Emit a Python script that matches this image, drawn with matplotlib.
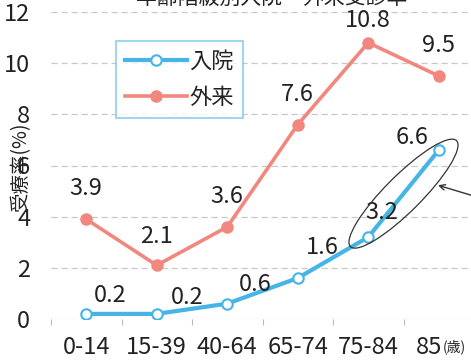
import numpy as np
import matplotlib.pyplot as plt
from matplotlib.patches import Ellipse
from matplotlib.transforms import IdentityTransform, ScaledTranslation

plt.rcParams['font.family'] = ['Noto Sans CJK JP', 'DejaVu Sans']

# data
age_groups = ['0-14', '15-39', '40-64', '65-74', '75-84', '85']
inpatient = [0.2, 0.2, 0.6, 1.6, 3.2, 6.6]
outpatient = [3.9, 2.1, 3.6, 7.6, 10.8, 9.5]
y_ticks = [0, 2, 4, 6, 8, 10, 12]

blue = '#45B4E6'
salmon = '#F2877F'
text_c = '#222222'

fig = plt.figure(figsize=(4.71, 3.61), dpi=100)
ax = fig.add_axes([51 / 471, 1 - 319 / 361, 423 / 471, 307 / 361])

x = np.arange(len(age_groups))

ax.plot(x, inpatient, color=blue, lw=3, marker='o', ms=7.5,
        mfc='white', mec=blue, mew=1.5, label='入院', zorder=3)
ax.plot(x, outpatient, color=salmon, lw=2.6, marker='o', ms=8,
        mfc=salmon, mec=salmon, label='外来', zorder=3)

# data labels (offsets in points)
in_off = [(17, 13), (22, 12), (20, 14), (18, 22), (10, 18), (-19, 9)]
out_off = [(0, 22), (0, 21), (0, 22), (0, 22), (0, 16), (0, 22)]
for i in range(len(x)):
    ax.annotate(f'{inpatient[i]:.1f}', (x[i], inpatient[i]), xytext=in_off[i],
                textcoords='offset points', ha='center', va='center',
                fontsize=17, color=text_c, zorder=4)
    ax.annotate(f'{outpatient[i]:.1f}', (x[i], outpatient[i]), xytext=out_off[i],
                textcoords='offset points', ha='center', va='center',
                fontsize=17, color=text_c, zorder=4)

ax.set_xlim(-0.5, len(x) - 0.5)
ax.set_ylim(0, 12)
ax.set_yticks(y_ticks)
ax.set_yticklabels([str(v) for v in y_ticks])
ax.set_xticks(x)
ax.set_xticklabels(age_groups)
ax.set_xticks(np.arange(-0.5, len(x), 1), minor=True)

ax.grid(True, axis='y', color='#C8C8C8', lw=0.9, ls=(0, (5, 3)))
ax.set_axisbelow(True)
for s in ax.spines.values():
    s.set_visible(False)
ax.tick_params(axis='both', which='major', length=0, labelsize=17, colors=text_c)
ax.tick_params(axis='x', which='major', pad=12)
ax.tick_params(axis='y', which='major', pad=15)
ax.tick_params(axis='x', which='minor', length=4, color='#BBBBBB', width=0.8)

# shift "85" left and put a small "(歳)" after it
last = ax.get_xticklabels()[-1]
last.set_transform(last.get_transform() + ScaledTranslation(-7 / 72, 0, fig.dpi_scale_trans))
ax.annotate('(歳)', xy=(x[-1], 0), xycoords=('data', 'axes fraction'),
            xytext=(3, -20), textcoords='offset points', ha='left', va='center',
            fontsize=10, color=text_c, annotation_clip=False)

ax.set_ylabel('受療率(%)', fontsize=14, color=text_c)
ax.yaxis.set_label_coords(-0.047, 0.495)

leg = ax.legend(loc='upper left', bbox_to_anchor=(0.154, 0.906), borderaxespad=0,
                fontsize=16, frameon=True, fancybox=False, handlelength=2.8,
                labelspacing=0.6, borderpad=0.4, handletextpad=0.1)
leg.get_frame().set_edgecolor('#8ACDEA')
leg.get_frame().set_linewidth(1.5)
for t in leg.get_texts():
    t.set_color(text_c)

fig.text(272 / 471, 1 + 2 / 361, '年齢階級別入院・外来受診率', ha='center', va='center',
         fontsize=15, color=text_c)

# ellipse around the last segment of 入院, with an arrow
p1 = ax.transData.transform((x[-2], inpatient[-2]))
p2 = ax.transData.transform((x[-1], inpatient[-1]))
c = (p1 + p2) / 2
ang = np.degrees(np.arctan2(p2[1] - p1[1], p2[0] - p1[0])) - 6
ell = Ellipse(c, width=np.hypot(*(p2 - p1)) + 38, height=36, angle=ang,
              fill=False, ec='#333333', lw=0.9, transform=IdentityTransform(), zorder=5)
fig.add_artist(ell)
a = np.radians(ang)
head = c + 29 * np.array([np.cos(a), np.sin(a)]) + 16 * np.array([np.sin(a), -np.cos(a)])
ax.annotate('', xy=head, xycoords='figure pixels', xytext=(head[0] + 60, head[1] - 18),
            textcoords='figure pixels',
            arrowprops=dict(arrowstyle='->', color='#333333', lw=1.0), annotation_clip=False)

fig.savefig('out.png', dpi=100)
